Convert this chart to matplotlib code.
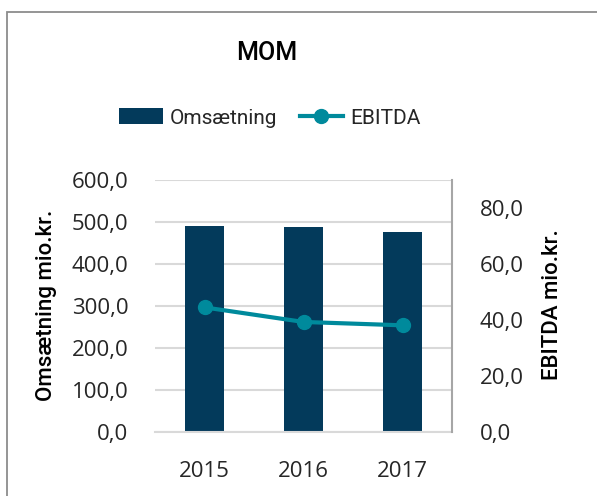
import matplotlib
matplotlib.use("Agg")
import matplotlib.pyplot as plt
from matplotlib.patches import Rectangle
from matplotlib.ticker import FuncFormatter, MultipleLocator

years = ["2015", "2016", "2017"]
omsaetning = [490.0, 487.0, 477.0]
ebitda = [44.5, 39.3, 38.1]

BAR = "#033a5b"
LINE = "#008a9c"
TXT = "#262626"
GRID = "#d9d9d9"

W, H = 597, 496
fig = plt.figure(figsize=(W / 100, H / 100), dpi=100)
fig.patch.set_facecolor("white")

# outer chart frame
fig.add_artist(Rectangle((7 / W, -0.1), 1.2, 1.1 - 12 / H + 0.0, transform=fig.transFigure,
                         fill=False, edgecolor="#8c8c8c", linewidth=1.3))

ax = fig.add_axes([155 / W, 1 - 432 / H, (452 - 155) / W, (432 - 180) / H])
x = list(range(len(years)))
bars = ax.bar(x, omsaetning, width=0.4, color=BAR, zorder=2, label="Omsætning")
ax.set_xlim(-0.5, 2.5)
ax.set_ylim(0, 600)
ax.yaxis.set_major_locator(MultipleLocator(100))
fmt = FuncFormatter(lambda v, p: f"{v:.1f}".replace(".", ","))
ax.yaxis.set_major_formatter(fmt)
ax.grid(axis="y", color=GRID, linewidth=1.5, zorder=0)
ax.set_axisbelow(True)
for s in ["left", "top", "right"]:
    ax.spines[s].set_visible(False)
ax.spines["bottom"].set_color(GRID)
ax.spines["bottom"].set_linewidth(1.5)
ax.set_xticks(x)
ax.set_xticklabels(years)
ax.tick_params(axis="both", length=0, colors=TXT, labelsize=16)
ax.tick_params(axis="y", pad=19)
ax.tick_params(axis="x", pad=21)
for lab in ax.get_xticklabels() + ax.get_yticklabels():
    lab.set_fontfamily("Open Sans")

ax2 = ax.twinx()
line, = ax2.plot(x, ebitda, color=LINE, linewidth=3, marker="o", markersize=10,
                 markeredgecolor=LINE, zorder=3, label="EBITDA")
ax2.set_ylim(0, 90)
ax2.set_yticks([0, 20, 40, 60, 80])
ax2.yaxis.set_major_formatter(fmt)
for s in ["left", "top", "bottom"]:
    ax2.spines[s].set_visible(False)
ax2.spines["right"].set_color("#a6a6a6")
ax2.spines["right"].set_linewidth(1.5)
ax2.tick_params(axis="y", length=0, colors=TXT, labelsize=16, pad=20)
for lab in ax2.get_yticklabels():
    lab.set_fontfamily("Open Sans")

fig.text(267 / W, 1 - 53 / H, "MOM", ha="center", va="center", fontsize=18,
         family="Roboto", fontweight="medium", color="black")
fig.text(47 / W, 1 - 305 / H, "Omsætning mio.kr.", ha="center", va="center",
         rotation=90, fontsize=16, family="Roboto", fontweight="medium", color="black")
fig.text(553 / W, 1 - 305 / H, "EBITDA mio.kr.", ha="center", va="center",
         rotation=90, fontsize=16, family="Roboto", fontweight="medium", color="black")

leg = fig.legend([bars, line], ["Omsætning", "EBITDA"], loc="center",
                 bbox_to_anchor=(270 / W, 1 - 118 / H), ncol=2, frameon=False,
                 prop={"family": "Roboto", "size": 15}, handlelength=2.1,
                 handleheight=0.78, handletextpad=0.35, columnspacing=1.05,
                 labelcolor=TXT)

fig.savefig("out.png", dpi=100, facecolor="white")
